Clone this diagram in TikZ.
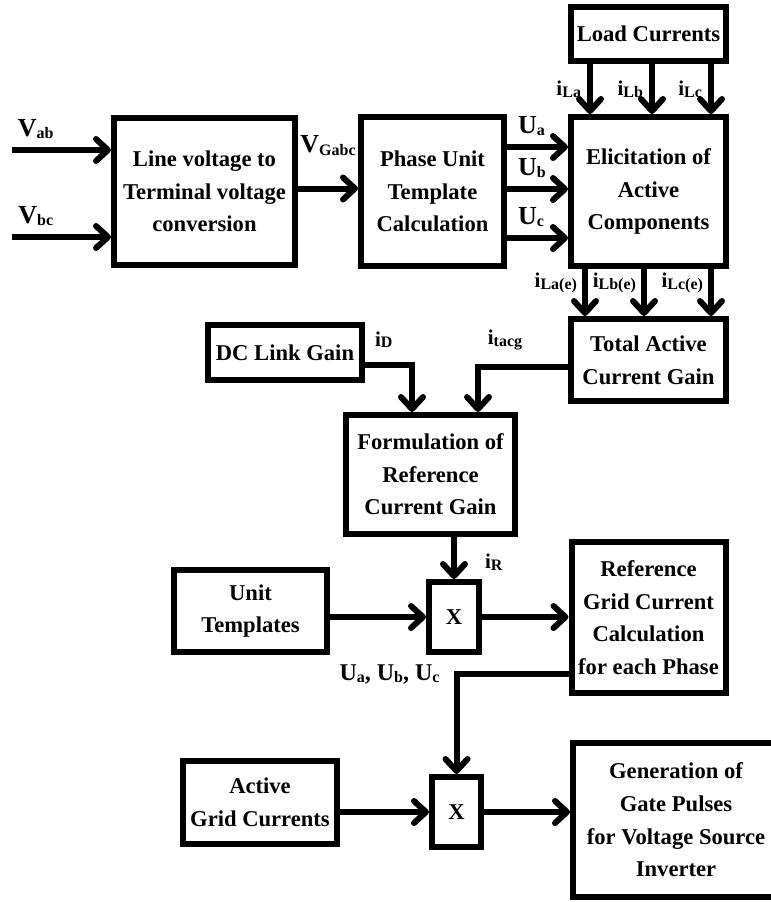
\documentclass[tikz,border=0pt]{standalone}
\usepackage{fontspec}
\setmainfont{Liberation Serif}
\usepackage{tikz}
\usetikzlibrary{arrows.meta, positioning}

% signal name with a small subscript
\newcommand{\sig}[2]{#1\raisebox{-0.2ex}{\fontsize{8}{8}\selectfont #2}}

\begin{document}
\begin{tikzpicture}[
        x=0.5pt, y=-0.5pt,
        block/.style={rectangle, draw=black, line width=3pt, align=center, font=\fontsize{11.3}{16.3}\selectfont\bfseries, inner sep=2pt},
        flow/.style={-{Straight Barb[length=6pt, width=11pt, line cap=round, line join=round]}, line width=3pt},
        volt/.style={font=\fontsize{13}{13}\selectfont\bfseries, inner sep=1pt},
        curr/.style={font=\fontsize{10.5}{10.5}\selectfont\bfseries, inner sep=1pt}
    ]
        \useasboundingbox (0,0) rectangle (771,902);

        \node[block, minimum width=90.5pt, minimum height=73.5pt] (linevolt) at (204.5,191.5)
            {Line voltage to\\Terminal voltage\\conversion};
        \node[block, minimum width=71.5pt, minimum height=74.5pt, right=30pt of linevolt] (template)
            {Phase Unit\\Template\\Calculation};
        \node[block, minimum width=77.5pt, minimum height=74.5pt, right=30.5pt of template] (elicit)
            {Elicitation of\\Active\\Components};
        \node[block, minimum width=77.5pt, minimum height=27pt, above=25pt of elicit] (load)
            {Load Currents};
        \node[block, minimum width=77.5pt, minimum height=41pt, below=23.5pt of elicit] (total)
            {Total Active\\Current Gain};
        \node[block, minimum width=77pt, minimum height=27.5pt] (dclink) at (285,352.5)
            {DC Link Gain};
        \node[block, minimum width=84.5pt, minimum height=59.5pt] (refgain) at (430.5,474.5)
            {Formulation of\\Reference\\Current Gain};
        \node[block, minimum width=77pt, minimum height=75.5pt, below=67.5pt of total] (refgrid)
            {Reference\\Grid Current\\Calculation\\for each Phase};
        \node[block, minimum width=76.5pt, minimum height=41pt] (unit) at (250.5,611)
            {Unit\\Templates};
        \node[block, minimum width=25pt, minimum height=35pt] (multa) at (454,617) {X};
        \node[block, minimum width=77pt, minimum height=41.5pt] (grid) at (260,802.5)
            {Active\\Grid Currents};
        \node[block, minimum width=24.5pt, minimum height=35pt] (multb) at (456.5,812) {X};
        % runs past the right margin, as cut in the source figure
        \node[block, minimum width=120pt, minimum height=77pt] (gate) at (693,820) {};
        \node[block, draw=none, align=center] (gatetext) at (676,820)
            {Generation of\\Gate Pulses\\for Voltage Source\\Inverter};

        % line voltages in
        \coordinate (vab) at (12,150);
        \coordinate (vbc) at (12,237);
        \draw[flow] (vab) -- (vab -| linevolt.west) node[volt, pos=0.24, above=3pt] {\sig{V}{ab}};
        \draw[flow] (vbc) -- (vbc -| linevolt.west) node[volt, pos=0.24, above=3pt] {\sig{V}{bc}};
        \draw[flow] ([yshift=1.5pt]linevolt.east) -- ([yshift=1.5pt]linevolt.east -| template.west)
            node[volt, midway, above=14pt] {\sig{V}{Gabc}};

        % unit templates
        \foreach \dy/\ph in {22.25/a, 1.25/b, -23.25/c}
            \draw[flow] ([yshift=\dy pt]template.east) -- ([yshift=\dy pt]template.east -| elicit.west)
                node[volt, pos=0, anchor=south west, xshift=3pt, yshift=3pt] {\sig{U}{\ph}};

        % load and active currents
        \foreach \dx/\ph in {-29.25/La, 1.75/Lb, 31.25/Lc}
            \draw[flow] ([xshift=\dx pt]load.south) -- ([xshift=\dx pt]elicit.north)
                node[curr, midway, left=2pt] {\sig{i}{\ph}};
        \foreach \dx/\ph in {-31.75/La(e), -2.25/Lb(e), 31.25/Lc(e)}
            \draw[flow] ([xshift=\dx pt]elicit.south) -- ([xshift=\dx pt]total.north)
                node[curr, pos=0.3, left=1.5pt] {\sig{i}{\ph}};

        \draw[flow] ([yshift=-3.5pt]total.west) -| ([xshift=23.75pt]refgain.north)
            node[curr, pos=0.35, above=6pt] {\sig{i}{tacg}};
        \draw[flow] ([yshift=-6.25pt]dclink.east) -| ([xshift=-9.25pt]refgain.north)
            node[curr, pos=0.2, above=6pt] {\sig{i}{D}};
        \draw[flow] (multa.north |- refgain.south) -- (multa.north)
            node[curr, pos=0.6, right=13pt] {\sig{i}{R}};

        \draw[flow] (unit.east |- multa.west) -- (multa.west);
        \draw[flow] (multa.east) -- (multa.east -| refgrid.west);
        \draw[flow] ([yshift=-28.25pt]refgrid.west) -| (multb.north)
            node[volt, pos=0.5, left=6pt, font=\fontsize{12}{12}\selectfont\bfseries] {\sig{U}{a}, \sig{U}{b}, \sig{U}{c}};
        \draw[flow] (grid.east |- multb.west) -- (multb.west);
        \draw[flow] (multb.east) -- (multb.east -| gate.west);
    \end{tikzpicture}
\end{document}
